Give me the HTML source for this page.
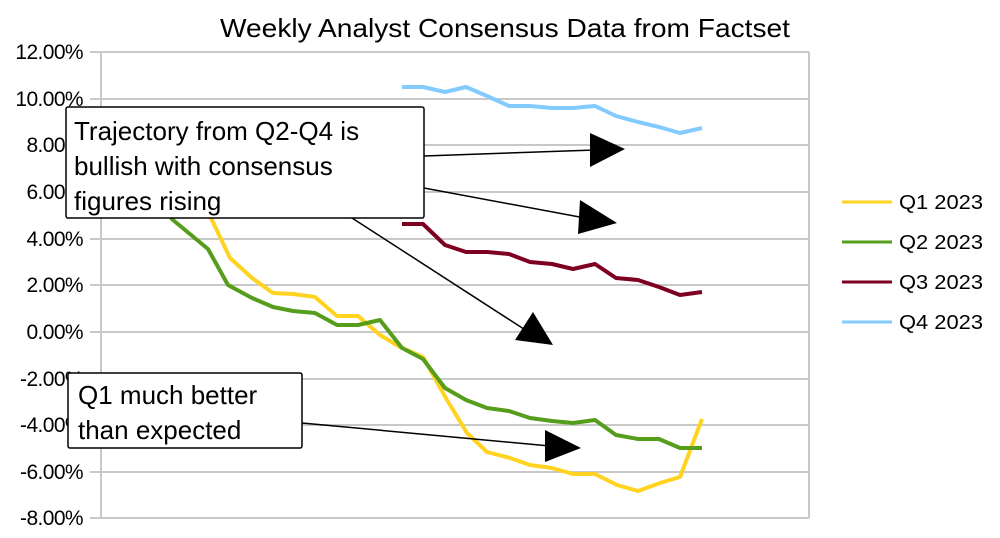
<!DOCTYPE html>
<html><head><meta charset="utf-8"><style>
html,body{margin:0;padding:0;background:#fff;}
svg{display:block;font-family:"Liberation Sans",Arial,sans-serif;}
</style></head><body>
<svg width="1000" height="538" viewBox="0 0 1000 538" xmlns="http://www.w3.org/2000/svg">
<rect width="1000" height="538" fill="#fff"/>
<text x="220" y="37" font-size="26" textLength="570" lengthAdjust="spacingAndGlyphs" fill="#000">Weekly Analyst Consensus Data from Factset</text>
<g stroke="#c8c8c8" stroke-width="2">
<line x1="90" y1="52" x2="809" y2="52"/><line x1="90" y1="99" x2="809" y2="99"/>
<line x1="90" y1="145" x2="809" y2="145"/><line x1="90" y1="192" x2="809" y2="192"/>
<line x1="90" y1="239" x2="809" y2="239"/><line x1="90" y1="285" x2="809" y2="285"/>
<line x1="90" y1="332" x2="809" y2="332"/><line x1="90" y1="379" x2="809" y2="379"/>
<line x1="90" y1="425" x2="809" y2="425"/><line x1="90" y1="472" x2="809" y2="472"/>
<line x1="90" y1="518" x2="809" y2="518"/>
<line x1="101" y1="52" x2="101" y2="518"/><line x1="809" y1="52" x2="809" y2="518"/>
</g>
<g font-size="21" text-anchor="end" fill="#000" letter-spacing="-0.6">
<text x="83" y="59">12.00%</text><text x="83" y="106">10.00%</text>
<text x="83" y="152">8.00%</text><text x="83" y="199">6.00%</text>
<text x="83" y="246">4.00%</text><text x="83" y="292">2.00%</text>
<text x="83" y="339">0.00%</text><text x="83" y="386">-2.00%</text>
<text x="83" y="432">-4.00%</text><text x="83" y="479">-6.00%</text>
<text x="83" y="525">-8.00%</text>
</g>
<g fill="none" stroke-width="4" stroke-linejoin="round">
<polyline stroke="#83caff" points="402,87 423,87 445,92 466,87 487,96 509,106 530,106 552,108 573,108 595,106 616,116 638,122 659,127 680,133 702,128"/>
<polyline stroke="#7e0021" points="402,224 423,224 445,245 466,252 487,252 509,254 530,262 552,264 573,269 595,264 616,278 638,280 659,287 680,295 702,292"/>
<polyline stroke="#ffd320" points="190,190 212,220 230,258 252,278 273,293 293,294 315,297 337,316 358,316 380,335 400,347 423,357 447,400 467,433 487,452 510,458 530,465 552,468 573,474 595,474 617,485 638,491 660,483 680,477 702,419"/>
<polyline stroke="#579d1c" points="145,188 173,220 208,249 228,285 252,298 273,307 293,311 315,313 337,325 358,325 380,320 402,348 423,359 445,388 466,400 487,408 509,411 530,418 552,421 573,423 595,420 616,435 638,439 659,439 680,448 702,448"/>
</g>
<g stroke="#000" stroke-width="1.5">
<line x1="424" y1="156" x2="595" y2="150"/>
<line x1="424" y1="188" x2="585" y2="218"/>
<line x1="352" y1="218" x2="530" y2="333"/>
<line x1="302" y1="423" x2="550" y2="446"/>
</g>
<g fill="#000">
<polygon points="590,133 625,149 590,167"/>
<polygon points="580,200 617,223 578,234"/>
<polygon points="515,340 533,312 553,345"/>
<polygon points="545,430 581,448 545,462"/>
</g>
<rect x="66" y="107" width="358" height="111" fill="#fff" stroke="#000" stroke-width="1.5" rx="2"/>
<g font-size="26" fill="#000">
<text x="74" y="140">Trajectory from Q2-Q4 is</text>
<text x="74" y="175">bullish with consensus</text>
<text x="74" y="210">figures rising</text>
</g>
<rect x="68" y="373" width="234" height="75" fill="#fff" stroke="#000" stroke-width="1.5" rx="2"/>
<g font-size="26" fill="#000">
<text x="78" y="404">Q1 much better</text>
<text x="78" y="439">than expected</text>
</g>
<g stroke-width="3">
<line x1="842" y1="202" x2="892" y2="202" stroke="#ffd320"/>
<line x1="842" y1="242" x2="892" y2="242" stroke="#579d1c"/>
<line x1="842" y1="282" x2="892" y2="282" stroke="#7e0021"/>
<line x1="842" y1="322" x2="892" y2="322" stroke="#83caff"/>
</g>
<g font-size="20" fill="#000">
<text x="899" y="209" textLength="84" lengthAdjust="spacingAndGlyphs">Q1 2023</text>
<text x="899" y="249" textLength="84" lengthAdjust="spacingAndGlyphs">Q2 2023</text>
<text x="899" y="289" textLength="84" lengthAdjust="spacingAndGlyphs">Q3 2023</text>
<text x="899" y="329" textLength="84" lengthAdjust="spacingAndGlyphs">Q4 2023</text>
</g>
</svg>
</body></html>
